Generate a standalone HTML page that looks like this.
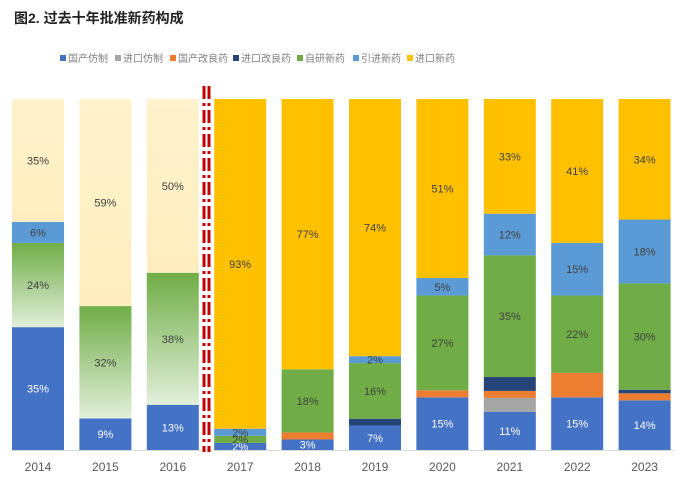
<!DOCTYPE html>
<html><head><meta charset="utf-8"><style>
body{margin:0;background:#fff;width:687px;height:479px;overflow:hidden;font-family:"Liberation Sans","Noto Sans CJK SC",sans-serif}
</style></head><body>
<svg id="chart" width="687" height="479" xmlns="http://www.w3.org/2000/svg">
<defs>
<linearGradient id="gg" x1="0" y1="0" x2="0" y2="1"><stop offset="0" stop-color="#70AD47"/><stop offset="1" stop-color="#E2EFDA"/></linearGradient>
<linearGradient id="yg" x1="0" y1="0" x2="0" y2="1"><stop offset="0" stop-color="#FFF2CC"/><stop offset="1" stop-color="#FFEDBF"/></linearGradient>
</defs>
<text x="14" y="23" font-size="14" font-weight="bold" fill="#222">图2. 过去十年批准新药构成</text>
<g id="legend"></g>
<g id="bars"></g>
<line x1="10" y1="450.5" x2="675" y2="450.5" stroke="#D9D9D9"/>
<line x1="204" y1="86" x2="204" y2="452" stroke="#C00000" stroke-width="3" stroke-dasharray="13,4,3,4"/>
<line x1="209" y1="86" x2="209" y2="452" stroke="#C00000" stroke-width="3" stroke-dasharray="13,4,3,4"/>
</svg>
<script>
const categories=["2014","2015","2016","2017","2018","2019","2020","2021","2022","2023"];
const seriesNames=["国产仿制","进口仿制","国产改良药","进口改良药","自研新药","引进新药","进口新药"];
const domesticGeneric=[35,9,13,2,3,7,15,11,15,14];
const importedGeneric=[0,0,0,0,0,0,0,4,0,0];
const domesticImproved=[0,0,0,0,2,0,2,2,7,2];
const importedImproved=[0,0,0,0,0,2,0,4,0,1];
const selfDeveloped=[24,32,38,2,18,16,27,35,22,30];
const licensedIn=[6,0,0,2,0,2,5,12,15,18];
const importedNew=[35,59,50,93,77,74,51,33,41,34];
const seriesValues=[domesticGeneric,importedGeneric,domesticImproved,importedImproved,selfDeveloped,licensedIn,importedNew];
const colors=["#4472C4","#A5A5A5","#ED7D31","#264478","#70AD47","#5B9BD5","#FFC000"];
const labeled=[true,false,false,false,true,true,true];
const keys=["domestic-generic","imported-generic","domestic-improved","imported-improved","self-developed","licensed-in","imported-new"];
const NS="http://www.w3.org/2000/svg";
const plotTop=99,plotBottom=450,plotLeft=12,step=67.4,barW=52;
const xPos=i=>plotLeft+i*step;
const yScale=(v,total)=>plotBottom-(v/total)*(plotBottom-plotTop);
const g=document.getElementById('bars');
categories.forEach((c,i)=>{
  let total=0;seriesValues.forEach(s=>total+=s[i]);
  let cum=0;
  seriesValues.forEach((s,k)=>{
    const v=s[i];if(!v)return;
    const y1=yScale(cum,total),y0=yScale(cum+v,total);cum+=v;
    const r=document.createElementNS(NS,'rect');
    
    
    r.setAttribute('x',xPos(i));r.setAttribute('y',y0);r.setAttribute('width',barW);r.setAttribute('height',y1-y0);
    let fill=colors[k];
    if(i<3&&k===4)fill='url(#gg)';
    if(i<3&&k===6)fill='url(#yg)';
    r.setAttribute('fill',fill);
    g.appendChild(r);
    if(labeled[k]){
      const t=document.createElementNS(NS,'text');
      
      
      t.setAttribute('x',xPos(i)+barW/2);t.setAttribute('y',(y0+y1)/2+4);
      t.setAttribute('text-anchor','middle');t.setAttribute('font-size','11');
      t.setAttribute('fill',k===0?'#fff':'#404040');
      t.textContent=v+'%';g.appendChild(t);
    }
  });
  const t=document.createElementNS(NS,'text');
  
  
  t.setAttribute('x',xPos(i)+barW/2);t.setAttribute('y',471);
  t.setAttribute('text-anchor','middle');t.setAttribute('font-size','12');t.setAttribute('fill','#595959');
  t.textContent=c;g.appendChild(t);
});
const lg=document.getElementById('legend');
const lx=[60,115,170,233,297,353,407];
seriesNames.forEach((n,k)=>{
  const r=document.createElementNS(NS,'rect');
  
  
  r.setAttribute('x',lx[k]);r.setAttribute('y',55);r.setAttribute('width',6);r.setAttribute('height',6);r.setAttribute('fill',colors[k]);
  lg.appendChild(r);
  const t=document.createElementNS(NS,'text');
  
  
  t.setAttribute('x',lx[k]+8);t.setAttribute('y',62);t.setAttribute('font-size','10');t.setAttribute('fill','#7F7F7F');
  t.textContent=n;lg.appendChild(t);
});
</script>
</body></html>
